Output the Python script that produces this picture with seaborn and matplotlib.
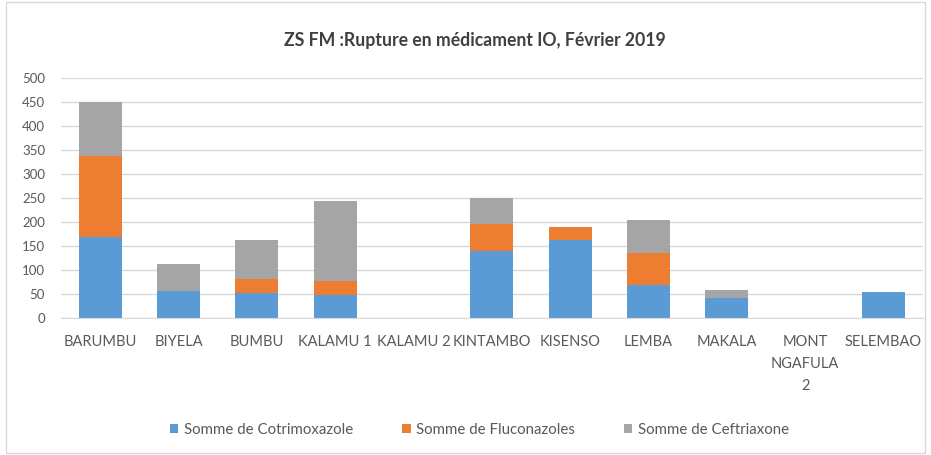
#%% Load libraries
import numpy as np
import pandas as pd
import matplotlib.pyplot as plt
import seaborn as sns

#%% Data
zones = ['BARUMBU', 'BIYELA', 'BUMBU', 'KALAMU 1', 'KALAMU 2', 'KINTAMBO',
         'KISENSO', 'LEMBA', 'MAKALA', 'MONT\nNGAFULA\n2', 'SELEMBAO']
cotrimoxazole = [169, 57, 52, 48, 0, 140, 162, 69, 41, 0, 55]
fluconazoles = [168, 0, 29, 30, 0, 56, 27, 66, 0, 0, 0]
ceftriaxone = [113, 56, 81, 165, 0, 55, 0, 69, 17, 0, 0]
series_names = ['Somme de Cotrimoxazole', 'Somme de Fluconazoles', 'Somme de Ceftriaxone']
colors = ['#5B9BD5', '#ED7D31', '#A5A5A5']
yticks = list(range(0, 501, 50))

#%% Cumulative heights for stacking
df = pd.DataFrame({'zone': zones, 'cotri': cotrimoxazole,
                   'fluco': fluconazoles, 'ceftri': ceftriaxone})
df['s1'] = df['cotri']
df['s2'] = df['s1'] + df['fluco']
df['s3'] = df['s2'] + df['ceftri']

#%% Plot
sns.set_style('white')
plt.rcParams['font.family'] = ['Lato', 'DejaVu Sans']

fig = plt.figure(figsize=(9.31, 4.55), dpi=100)
ax = fig.add_axes([0.0655, 0.301, 0.9255, 0.5275])

# draw tallest first so the lower segments sit on top
for col, name, c in zip(['s3', 's2', 's1'], series_names[::-1], colors[::-1]):
    sns.barplot(data=df, x='zone', y=col, color=c, width=0.55, ax=ax,
                label=name, saturation=1, linewidth=0)
ax.get_legend().remove()

ax.set_ylim(0, 500)
ax.set_xlim(-0.5, len(zones) - 0.5)
ax.set_yticks(yticks)
ax.yaxis.grid(True, color='#D9D9D9', linewidth=1)
ax.set_axisbelow(True)
for s in ['top', 'right', 'left']:
    ax.spines[s].set_visible(False)
ax.spines['bottom'].set_color('#D9D9D9')
ax.set_xlabel('')
ax.set_ylabel('')
ax.tick_params(axis='both', length=0, colors='#595959')
ax.tick_params(axis='y', labelsize=9.5, pad=11.5)
ax.tick_params(axis='x', labelsize=10.5, pad=12)
for lbl in ax.get_xticklabels():
    lbl.set_linespacing(1.75)
    lbl.set_verticalalignment('top')

fig.suptitle('ZS FM :Rupture en médicament IO, Février 2019', x=0.51, y=0.93,
             fontsize=12.7, fontweight='bold', color='#404040')

handles, labels = ax.get_legend_handles_labels()
leg = fig.legend(handles[::-1], labels[::-1], loc='center', bbox_to_anchor=(0.515, 0.055),
                 ncol=3, frameon=False, fontsize=10.8, handlelength=0.55, handleheight=0.55,
                 handletextpad=0.35, columnspacing=3.3)
for t in leg.get_texts():
    t.set_color('#595959')

fig.patches.append(plt.Rectangle((0.006, 0.004), 0.988, 0.992, transform=fig.transFigure,
                                 fill=False, edgecolor='#D9D9D9', linewidth=1))

plt.savefig('out.png', dpi=100)
